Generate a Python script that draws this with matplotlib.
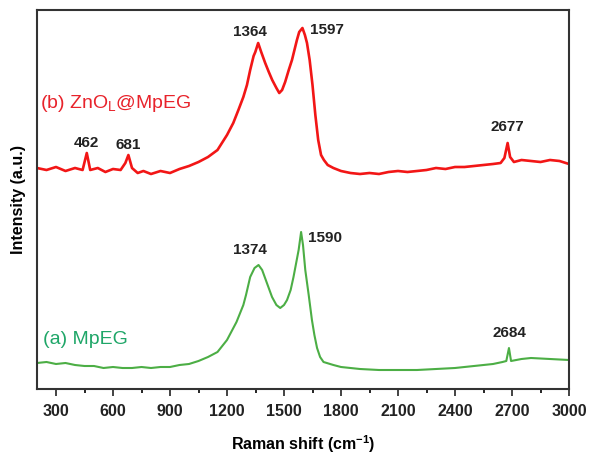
import matplotlib
matplotlib.use("Agg")
import matplotlib.pyplot as plt
from matplotlib.ticker import MultipleLocator

plt.rcParams['font.family'] = ['Liberation Sans', 'DejaVu Sans']
plt.rcParams['mathtext.fontset'] = 'custom'
plt.rcParams['mathtext.rm'] = 'Liberation Sans'
plt.rcParams['mathtext.bf'] = 'Liberation Sans:bold'
plt.rcParams['mathtext.it'] = 'Liberation Sans:italic'

# ---- data (stacked spectra, arbitrary units as displayed) ----
shift_b = [200, 250, 300, 350, 400, 440, 462, 480, 520, 560, 600, 640, 665, 681, 700,
           730, 760, 800, 850, 900, 950, 1000, 1050, 1100, 1150, 1200, 1233, 1260, 1286,
           1305, 1322, 1340, 1349, 1364, 1380, 1401, 1420, 1438, 1460, 1475, 1490, 1506,
           1525, 1542, 1555, 1568, 1580, 1597, 1610, 1621, 1635, 1650, 1665, 1680, 1695,
           1710, 1730, 1760, 1800, 1850, 1900, 1950, 2000, 2050, 2100, 2150, 2200, 2250,
           2300, 2350, 2400, 2450, 2500, 2550, 2600, 2640, 2660, 2677, 2690, 2710, 2750,
           2800, 2850, 2900, 2950, 3000]
ypix_b = [168, 170, 167, 171, 168, 170, 153, 170, 168, 172, 169, 170, 163, 155, 168,
          173, 171, 174, 171, 173, 169, 166, 162, 157, 150, 135, 123, 110, 97,
          85, 70, 56, 52, 43, 52, 63, 72, 80, 88, 93, 90, 82,
          70, 60, 50, 40, 32, 28, 35, 43, 60, 85, 115, 140, 155,
          160, 165, 168, 171, 173, 174, 173, 174, 172, 171, 172, 171, 170,
          168, 169, 167, 167, 166, 165, 164, 163, 158, 143, 157, 162, 160,
          161, 162, 160, 161, 164]
intensity_b = [389 - v for v in ypix_b]

shift_a = [200, 250, 300, 350, 400, 450, 500, 550, 600, 650, 700, 750, 800, 850, 900,
           950, 1000, 1050, 1100, 1150, 1200, 1250, 1286, 1300, 1322, 1345, 1366, 1385,
           1410, 1437, 1460, 1480, 1500, 1516, 1535, 1550, 1565, 1577, 1590, 1600, 1612,
           1630, 1647, 1660, 1674, 1690, 1708, 1760, 1800, 1900, 2000, 2100, 2200, 2300,
           2400, 2500, 2600, 2650, 2670, 2684, 2695, 2750, 2800, 2900, 3000]
ypix_a = [363, 362, 364, 363, 365, 366, 366, 368, 367, 368, 368, 367, 368, 367, 367,
          365, 364, 361, 357, 352, 340, 322, 305, 295, 277, 268, 265, 270,
          283, 297, 305, 308, 305, 300, 290, 277, 262, 250, 232, 245, 270,
          295, 320, 335, 348, 357, 362, 365, 367, 369, 370, 370, 370, 369,
          368, 366, 364, 362, 361, 348, 361, 359, 358, 359, 360]
intensity_a = [389 - v for v in ypix_a]

peaks_b = [462, 681, 1364, 1597, 2677]
peaks_b_lab_x = [462, 681, 1321, 1726, 2677]
peaks_b_lab_y = [246, 244, 357, 359, 262]
peaks_a = [1374, 1590, 2684]
peaks_a_lab_x = [1321, 1716, 2689]
peaks_a_lab_y = [139, 151, 56]

red = '#f21616'
green = '#4cae45'

fig = plt.figure(figsize=(5.89, 4.57), dpi=100)
ax = fig.add_axes([37/589, 1-389/457, (569-37)/589, (389-10)/457])

ax.plot(shift_b, intensity_b, color=red, lw=1.9)
ax.plot(shift_a, intensity_a, color=green, lw=1.5)

for x, y, p in zip(peaks_b_lab_x, peaks_b_lab_y, peaks_b):
    ax.text(x, y, str(p), ha='center', va='center', fontsize=11, fontweight='bold', color='#222222')
for x, y, p in zip(peaks_a_lab_x, peaks_a_lab_y, peaks_a):
    ax.text(x, y, str(p), ha='center', va='center', fontsize=11, fontweight='bold', color='#222222')

ax.text(215, 286, r'(b) ZnO$_{\mathrm{L}}$@MpEG', color='#e8232b', fontsize=14,
        ha='left', va='center')
ax.text(230, 49, '(a) MpEG', color='#1fa668', fontsize=14, ha='left', va='center')

ax.set_xlim(200, 3000)
ax.set_ylim(0, 379)
ax.xaxis.set_minor_locator(MultipleLocator(150))
ax.set_xticks(range(300, 3001, 300))
ax.set_yticks([])
ax.tick_params(axis='x', which='major', direction='out', length=5, width=1.2,
               labelsize=11.5, colors='#222222', pad=6)
ax.tick_params(axis='x', which='minor', direction='out', length=3, width=1.2)
for lab in ax.get_xticklabels():
    lab.set_fontweight('bold')
for s in ax.spines.values():
    s.set_color('#333333')
    s.set_linewidth(1.5)

ax.set_xlabel(r'Raman shift (cm$^{\mathbf{-1}}$)', fontsize=11.5, fontweight='bold', labelpad=10)
ax.set_ylabel('Intensity (a.u.)', fontsize=11.5, fontweight='bold', labelpad=8)

fig.savefig('out.png', dpi=100)
